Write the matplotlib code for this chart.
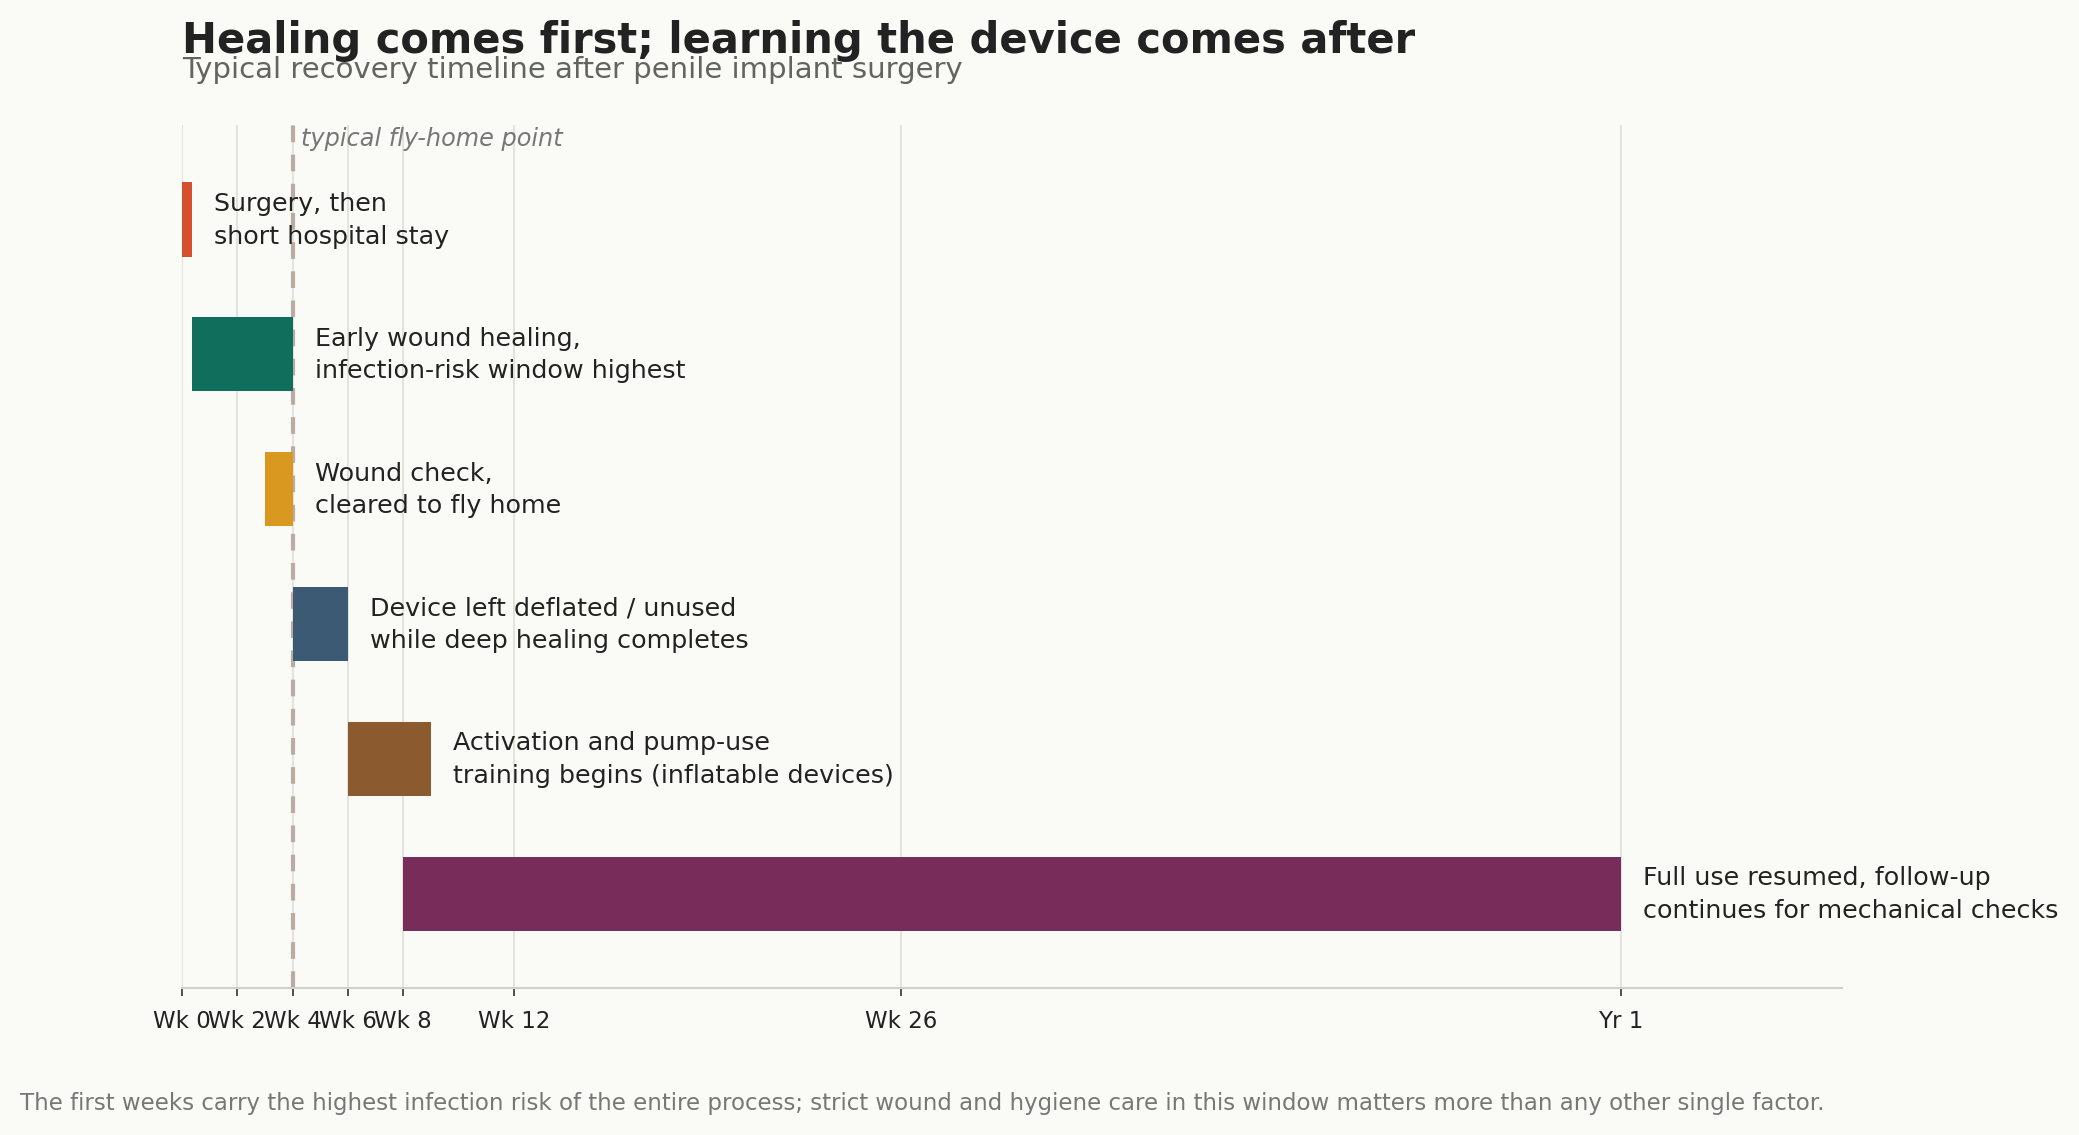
import matplotlib
matplotlib.use("Agg")
import matplotlib.pyplot as plt
import matplotlib.transforms as mtransforms

# ---- data ----
phases = [
    "Surgery, then\nshort hospital stay",
    "Early wound healing,\ninfection-risk window highest",
    "Wound check,\ncleared to fly home",
    "Device left deflated / unused\nwhile deep healing completes",
    "Activation and pump-use\ntraining begins (inflatable devices)",
    "Full use resumed, follow-up\ncontinues for mechanical checks",
]
start_wk = [0.0, 0.36, 3.0, 4.0, 6.0, 8.0]
end_wk = [0.36, 4.0, 4.0, 6.0, 9.0, 52.0]
colors = ["#d4502f", "#0f6e5c", "#d9981f", "#3c5a73", "#8c5a2f", "#782c5a"]
tick_pos = [0, 2, 4, 6, 8, 12, 26, 52]
tick_lbl = ["Wk 0", "Wk 2", "Wk 4", "Wk 6", "Wk 8", "Wk 12", "Wk 26", "Yr 1"]
fly_home_wk = 4

title = "Healing comes first; learning the device comes after"
subtitle = "Typical recovery timeline after penile implant surgery"
footer = ("The first weeks carry the highest infection risk of the entire process; "
          "strict wound and hygiene care in this window matters more than any other single factor.")

BG = "#fafaf6"
fig = plt.figure(figsize=(13.86, 7.573), dpi=150, facecolor=BG)
ax = fig.add_axes([182/2079, 1-989/1136, (1842-182)/2079, (989-126)/1136])
ax.set_facecolor(BG)

ypos = list(range(len(phases)))
widths = [e - s for s, e in zip(start_wk, end_wk)]
ax.barh(ypos, widths, left=start_wk, height=0.55, color=colors, zorder=3)

for y, e, txt in zip(ypos, end_wk, phases):
    ax.annotate(txt, xy=(e, y), xytext=(10.5, 0), textcoords="offset points",
                va="center", ha="left", fontsize=12.2, color="#222222",
                linespacing=1.45, zorder=4)

ax.axvline(fly_home_wk, color="#b8aca3", lw=2.0, ls=(0, (4, 3)), zorder=2)
trans = mtransforms.blended_transform_factory(ax.transData, ax.transAxes)
ax.annotate("typical fly-home point", xy=(fly_home_wk, 1.0), xycoords=trans,
            xytext=(4.0, -0.5), textcoords="offset points", ha="left", va="top",
            fontsize=11.5, style="italic", color="#777777")

ax.set_xlim(0, 60)
ax.set_ylim(len(phases) - 0.3, -0.7)
ax.set_xticks(tick_pos)
ax.set_xticklabels(tick_lbl, fontsize=11, color="#222222")
ax.set_yticks([])
ax.grid(axis="x", color="#e2e2da", lw=0.9, zorder=0)
ax.set_axisbelow(True)
for s in ["top", "right", "left"]:
    ax.spines[s].set_visible(False)
ax.spines["bottom"].set_color("#d0d0c8")
ax.spines["bottom"].set_linewidth(1.0)
ax.tick_params(axis="x", length=4, width=0.8, color="#333333", pad=6)

fig.text(182/2079, 1-52.7/1136, title, fontsize=20, fontweight="bold",
         color="#222222", ha="left", va="baseline")
fig.text(182/2079, 1-78/1136, subtitle, fontsize=14, color="#62645f",
         ha="left", va="baseline")
fig.text(20/2079, 1-1110/1136, footer, fontsize=11, color="#777777",
         ha="left", va="baseline")

fig.savefig("out.png", dpi=150, facecolor=BG)
